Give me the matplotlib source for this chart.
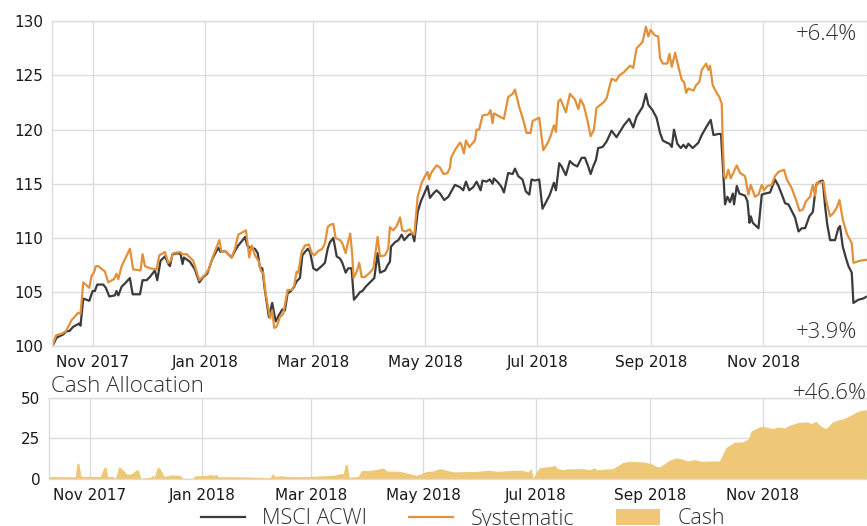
import matplotlib
matplotlib.use("Agg")
import matplotlib.pyplot as plt
import matplotlib.dates as mdates
from matplotlib import font_manager as fm
import pandas as pd

# ---------------- data ----------------
start_date = "2017-10-10"

msci_days = [0, 2.3, 5.9, 7.7, 9.2, 11.3, 14.6, 15.3, 16.8, 18.6, 20.1, 21.9, 23.1, 24.4, 27.7, 29.1,
             31.0, 34.0, 34.9, 35.9, 37.7, 39.5, 42.2, 43.7, 47.7, 49.1, 51.3, 53.1, 55.8, 57.1, 58.9,
             61.3, 63.1, 64.0, 65.4, 68.5, 69.8, 70.9, 71.6, 74.9, 77.6, 80.0, 82.2, 84.3, 87.2, 90.3,
             91.6, 94.0, 97.6, 99.4, 101.2, 103.6, 104.9, 106.1, 107.6,
             110.3, 111.8, 113.0, 114.3, 115.7, 117.9, 119.7, 121.6, 123.4, 125.2, 126.6, 128.1, 129.9,
             131.7, 133.0, 134.8, 136.1, 139.0, 140.3, 142.1, 143.9, 146.6, 148.4, 149.9, 151.1, 153.0,
             154.8, 156.6, 157.9, 159.7, 161.1, 162.9, 164.2, 165.7, 167.5, 168.8, 170.6, 173.5, 175.3,
             177.1, 178.4, 181.1, 182.6, 183.8, 184.4, 186.5, 188.4, 190.2, 191.6, 194.2, 196.0, 197.1,
             198.9, 200.7, 202.5, 204.3, 205.6, 207.4, 209.2, 211.1, 213.4, 215.6, 219.2,
             221.9, 223.7, 225.2, 227.0, 229.2, 231.0, 233.2, 234.2, 236.4, 238.2, 239.7, 240.4, 242.8,
             244.6, 245.9, 248.2, 250.6, 251.9, 253.7, 256.0, 257.8, 259.7, 260.9, 262.7, 265.1, 266.9,
             269.1, 270.9, 273.1, 274.2, 276.0, 277.3, 279.6, 281.8, 283.6, 285.8, 288.2, 290.0, 291.8,
             293.1, 294.5, 296.0, 297.2, 299.6, 301.8, 304.5, 307.2, 309.0, 311.2, 314.1, 316.3, 318.1,
             321.4, 323.2, 324.5, 326.8, 329.0,
             330.9, 332.4, 334.5, 336.0, 337.3, 338.5, 340.3, 342.2, 343.6, 345.1, 346.3, 348.7, 351.8,
             353.6, 356.3, 358.5, 360.0, 362.7, 364.1, 365.4, 366.3, 367.6, 369.0, 370.5, 371.2, 372.7,
             374.1, 377.2, 378.5, 379.6, 380.3, 381.4, 382.6, 384.5, 386.3, 388.1, 390.8, 393.5, 395.4,
             397.7, 399.0, 400.8, 402.6, 404.4, 406.3, 408.1, 409.9, 412.2, 414.1, 415.9, 417.7, 419.5,
             420.8, 422.0, 423.5, 426.2, 428.0, 428.9, 430.4, 432.2, 433.5, 435.3, 436.2, 438.9, 441.3,
             443.6]
msci_vals = [100.0, 100.8, 101.1, 101.4, 101.4, 101.8, 102.1, 101.9, 104.4, 104.3, 104.2, 105.1, 105.1,
             105.7, 105.7, 105.4, 104.6, 104.7, 105.1, 104.7, 105.5, 105.8, 106.3, 104.8, 104.8, 106.1,
             106.1, 106.4, 107.0, 106.1, 107.9, 108.3, 107.6, 107.4, 108.5, 108.6, 108.5, 107.6, 108.2,
             107.8, 107.1, 105.9, 106.4, 106.7, 108.1, 109.1, 108.7, 108.8, 108.2, 108.8, 109.3, 109.8,
             110.1, 109.3, 109.1,
             109.0, 108.6, 107.3, 107.2, 105.2, 102.7, 104.0, 102.3, 102.9, 103.4, 103.3, 104.9, 105.1,
             105.5, 106.0, 106.3, 108.4, 109.0, 108.7, 107.2, 107.0, 107.4, 107.7, 109.0, 109.6, 110.0,
             108.3, 108.1, 107.7, 106.8, 107.2, 107.2, 104.3, 104.6, 105.0, 105.1, 105.5, 106.0, 106.3,
             108.6, 106.8, 107.0, 107.5, 107.8, 109.2, 109.6, 109.8, 110.3, 109.8, 110.3, 110.4, 109.7,
             112.4, 113.4, 114.1, 114.8, 113.7, 114.1, 114.4, 114.1, 113.5, 113.8, 114.9,
             114.7, 114.4, 115.2, 114.4, 114.7, 115.2, 114.4, 115.3, 115.2, 115.4, 115.0, 115.5, 115.1,
             114.7, 114.2, 116.0, 115.9, 116.4, 115.7, 115.4, 114.3, 114.0, 115.4, 115.3, 115.4, 112.7,
             113.4, 114.0, 115.1, 114.4, 116.9, 116.6, 115.8, 117.1, 116.8, 116.6, 117.4, 117.4, 116.6,
             115.9, 116.6, 117.2, 118.3, 118.4, 118.9, 119.9, 119.3, 119.8, 120.4, 121.0, 120.2, 121.2,
             122.1, 123.3, 122.3, 121.8, 121.1,
             119.7, 119.0, 118.8, 118.7, 118.4, 120.0, 118.7, 118.3, 118.6, 118.3, 118.7, 118.3, 118.8,
             119.5, 120.3, 120.9, 119.5, 119.6, 119.6, 115.7, 113.1, 113.8, 113.3, 114.1, 113.1, 114.8,
             114.1, 113.9, 113.4, 111.4, 112.0, 111.4, 111.2, 110.9, 114.0, 114.1, 114.2, 115.4, 114.8,
             113.8, 113.2, 113.1, 112.5, 111.9, 110.6, 110.9, 110.9, 112.0, 112.4, 114.9, 115.2, 115.3,
             112.9, 111.2, 109.8, 109.8, 110.9, 111.1, 109.2, 108.1, 107.4, 106.8, 104.0, 104.3, 104.4,
             104.6]

sys_days = [0, 1.9, 5.5, 7.4, 10.4, 14.1, 15.3, 16.8, 20.1, 21.3, 22.6, 23.7, 25.0, 28.6, 30.4, 33.5,
            34.9, 35.9, 37.7, 42.2, 44.0, 48.0, 49.1, 50.4, 53.1, 56.7, 58.2, 61.3, 63.1, 64.4, 65.8,
            69.4, 70.9, 73.1, 76.7, 80.0, 83.6, 85.4, 87.2, 90.9, 92.1, 93.9, 97.6, 99.4, 101.2, 105.4,
            107.2, 108.5,
            110.3, 112.5, 113.6, 114.8, 116.1, 118.5, 119.7, 120.8, 122.1, 123.9, 125.7, 128.1, 130.3,
            131.7, 133.0, 133.9, 135.7, 137.5, 139.7, 141.2, 142.6, 144.8, 147.0, 148.4, 149.9, 151.1,
            153.0, 154.2, 156.6, 157.9, 159.7, 161.1, 162.2, 163.3, 164.0, 165.7, 167.1, 168.4, 170.2,
            172.9, 174.8, 177.1, 178.4, 181.1, 182.9, 183.8, 185.6, 187.5, 189.3, 190.5, 192.4, 194.7,
            196.0, 197.1, 198.9, 201.1, 202.9, 204.3, 205.1, 206.2, 209.2, 211.1, 212.9, 215.2, 216.5,
            217.1, 219.2,
            221.9, 222.8, 224.1, 225.2, 227.0, 230.1, 231.0, 232.4, 234.2, 237.3, 238.6, 239.7, 240.4,
            243.7, 245.9, 248.2, 250.6, 251.9, 254.2, 256.4, 258.2, 260.4, 261.5, 265.1, 267.3, 269.5,
            271.3, 273.1, 274.2, 275.5, 276.7, 279.6, 281.8, 284.5, 286.4, 287.6, 289.4, 291.3, 293.1,
            294.9, 296.3, 297.8, 300.0, 301.8, 304.5, 306.9, 308.7, 311.2, 314.5, 316.3, 318.1, 321.4,
            323.2, 324.5, 325.7, 328.1, 329.9,
            330.9, 332.4, 334.9, 336.0, 337.3, 339.1, 340.9, 342.7, 344.0, 345.1, 346.3, 349.1, 350.5,
            352.3, 353.6, 356.0, 357.2, 358.1, 359.6, 361.4, 363.2, 364.5, 365.0, 365.8, 366.8, 368.1,
            369.4, 370.8, 372.7, 374.5, 377.2, 379.0, 380.3, 382.6, 384.5, 386.3, 387.5, 389.4, 391.7,
            393.5, 395.4, 398.4, 399.9, 402.6, 405.0, 406.8, 408.6, 410.4, 412.6, 414.1, 415.3, 416.2,
            418.0, 419.9, 421.3, 423.5, 425.3, 427.1, 428.6, 430.4, 432.6, 434.4, 435.3, 436.2, 439.8,
            443.6]
sys_vals = [100.0, 101.0, 101.2, 101.4, 102.4, 103.1, 103.0, 105.9, 105.4, 106.5, 106.8, 107.4, 107.4,
            106.9, 105.9, 106.2, 106.7, 106.2, 107.4, 109.0, 107.1, 107.0, 108.5, 107.4, 107.2, 107.1,
            108.4, 108.7, 107.7, 107.9, 108.6, 108.7, 108.5, 108.5, 107.9, 106.1, 106.7, 107.2, 108.2,
            109.8, 108.7, 108.8, 108.2, 109.0, 110.3, 110.7, 108.2, 109.3,
            108.4, 107.8, 106.9, 106.8, 104.9, 102.6, 103.3, 101.7, 101.8, 102.7, 103.0, 105.2, 105.2,
            105.6, 106.9, 106.8, 108.7, 109.3, 109.4, 108.6, 108.4, 108.8, 109.0, 109.5, 111.0, 111.2,
            111.3, 110.0, 109.8, 109.5, 108.6, 109.7, 110.4, 108.4, 106.3, 106.9, 107.7, 106.4, 106.4,
            106.8, 107.2, 110.1, 108.3, 108.4, 109.0, 111.0, 110.7, 111.1, 111.9, 110.7, 110.6, 110.8,
            110.4, 110.3, 113.8, 115.1, 115.7, 116.1, 115.4, 116.0, 116.7, 116.5, 115.9, 116.0, 116.5,
            117.4, 118.1,
            118.8, 118.6, 117.8, 119.0, 118.4, 119.0, 120.0, 120.0, 121.3, 121.4, 121.8, 120.6, 121.5,
            121.2, 121.0, 123.0, 123.3, 123.7, 122.1, 120.9, 119.7, 119.7, 120.8, 121.1, 118.1, 118.7,
            119.4, 120.4, 119.8, 122.6, 122.8, 121.6, 123.3, 122.8, 121.9, 122.8, 122.2, 120.9, 119.4,
            120.0, 122.0, 122.2, 122.5, 122.9, 124.7, 124.5, 125.0, 125.3, 125.9, 125.7, 127.5, 128.1,
            129.5, 128.6, 129.2, 128.7, 128.6,
            126.6, 126.1, 126.1, 127.0, 125.8, 127.1, 125.8, 124.6, 124.4, 123.4, 123.8, 123.6, 124.1,
            124.4, 125.5, 126.1, 125.5, 125.9, 124.1, 123.5, 123.0, 122.4, 119.1, 115.7, 115.5, 116.3,
            115.5, 116.0, 116.7, 116.0, 115.7, 114.0, 114.9, 113.8, 114.0, 114.9, 114.4, 114.8, 114.9,
            115.7, 116.1, 116.3, 115.4, 114.6, 113.5, 112.5, 112.6, 113.4, 113.8, 114.9, 113.9, 115.1,
            115.1, 115.2, 113.5, 112.0, 112.3, 112.8, 113.5, 111.7, 110.4, 109.8, 109.5, 107.7, 107.9,
            108.0]

cash_days = [0, 14.1, 15.0, 16.1, 17.2, 27.6, 29.8, 30.9, 31.6, 34.5, 35.8, 37.6, 38.8, 42.1, 44.8,
             47.1, 48.4, 49.7, 54.7, 56.2, 56.9, 58.7, 60.1, 62.3, 65.5, 70.9, 72.4, 77.8, 79.1, 85.4,
             87.6, 89.0, 90.5, 91.7, 99.9, 108.9, 119.7, 121.2, 122.4, 125.2, 128.8, 136.0, 141.5,
             154.1, 157.7, 159.5, 160.6, 161.7, 162.7, 167.6, 169.4, 173.9, 176.6, 181.2, 183.3, 190.2,
             193.8, 199.2, 201.9, 204.6, 208.2, 211.8, 214.5, 219.0, 231.7, 238.9, 242.5, 252.4, 256.1,
             259.7, 261.5, 262.4, 264.2, 266.0, 272.3, 274.1, 275.9, 278.6, 280.4, 289.5, 293.1, 295.8,
             296.7, 305.7, 311.1, 314.7, 322.0, 326.5, 329.2, 331.0, 336.4, 340.0, 342.7, 346.3, 349.9,
             353.6, 361.7, 363.5, 367.1, 371.6, 376.1, 379.4, 380.7, 385.2, 387.0, 392.4, 395.1, 398.7,
             401.4, 406.8, 411.4, 413.2, 415.9, 418.6, 421.3, 424.9, 428.5, 431.2, 435.7, 439.3, 443.6]
cash_vals = [1.5, 1.4, 10.0, 9.2, 1.6, 1.6, 7.4, 7.0, 1.4, 1.6, 0.2, 7.4, 7.0, 2.9, 3.3, 5.7, 5.3, 0.4,
             1.0, 2.5, 1.0, 7.4, 6.4, 1.6, 2.5, 2.3, 0.4, 0.4, 2.0, 2.3, 2.9, 2.0, 2.9, 1.4, 1.4, 1.2,
             0.8, 3.3, 1.6, 2.0, 1.6, 1.4, 1.6, 2.3, 3.3, 3.3, 9.0, 8.6, 1.0, 1.6, 5.3, 5.3, 5.7, 6.8,
             4.9, 4.7, 3.7, 2.3, 3.3, 4.7, 4.9, 6.4, 5.7, 4.4, 4.7, 5.4, 4.7, 5.4, 5.4, 4.4, 6.4, 0.4,
             4.4, 7.0, 7.8, 8.4, 6.4, 5.7, 6.2, 6.4, 5.7, 7.0, 5.7, 6.4, 10.1, 10.9, 10.5, 9.5, 7.8,
             7.4, 11.5, 13.0, 12.5, 11.1, 11.9, 10.9, 11.1, 11.1, 19.3, 22.6, 22.8, 24.8, 29.5, 32.0,
             32.4, 31.0, 32.0, 31.4, 33.0, 34.9, 35.1, 34.0, 35.5, 32.4, 31.0, 35.1, 36.5, 37.2, 39.8,
             41.9, 42.7]

labels = ["MSCI ACWI", "Systematic", "Cash"]
ret_labels = ["+6.4%", "+3.9%", "+46.6%"]
top_yticks = [100, 105, 110, 115, 120, 125, 130]
bot_yticks = [0, 25, 50]

# ---------------- fonts ----------------
def find_light():
    for fam in ["Open Sans", "Lato", "Roboto", "Inter", "Noto Sans"]:
        for f in fm.fontManager.ttflist:
            w = f.weight
            if isinstance(w, str):
                w = fm.weight_dict.get(w, 400)
            if f.name == fam and w <= 300 and f.style == "normal":
                return fam
    return "DejaVu Sans"

LIGHT = find_light()

# ---------------- figure ----------------
t0 = pd.Timestamp(start_date)
to_dates = lambda d: t0 + pd.to_timedelta(d, unit="D")
md = to_dates(msci_days)
sd = to_dates(sys_days)
cd = to_dates(cash_days)
xmin, xmax = md.min(), md.max()

fig = plt.figure(figsize=(8.67, 5.26), dpi=100)
W, H = 867, 526
ax1 = fig.add_axes([52.4 / W, (H - 346.3) / H, 1 - 52.4 / W, (346.3 - 21.3) / H])
ax2 = fig.add_axes([49.3 / W, (H - 479) / H, 1 - 49.3 / W, (479 - 397.7) / H])

c_msci = "#3b3b3b"
c_sys = "#e2903a"
c_cash = "#efc877"
grid_c = "#dcdcdc"

l1, = ax1.plot(md, msci_vals, color=c_msci, lw=1.6, label=labels[0])
l2, = ax1.plot(sd, sys_vals, color=c_sys, lw=1.6, label=labels[1])
ax1.set_ylim(100, 130)
ax1.set_yticks(top_yticks)

fill = ax2.fill_between(cd, 0, cash_vals, color=c_cash, lw=0, label=labels[2])
ax2.set_ylim(0, 50)
ax2.set_yticks(bot_yticks)

for ax in (ax1, ax2):
    ax.set_xlim(xmin, xmax)
    ax.xaxis.set_major_locator(mdates.MonthLocator(bymonth=[1, 3, 5, 7, 9, 11]))
    ax.xaxis.set_major_formatter(mdates.DateFormatter("%b %Y"))
    ax.grid(True, color=grid_c, lw=1.0)
    ax.set_axisbelow(True)
    for s in ax.spines.values():
        s.set_color(grid_c)
        s.set_linewidth(1.0)
    ax.tick_params(length=0, labelsize=11, colors="#1a1a1a", pad=6.5)
    ax.set_facecolor("white")

tkw = dict(family=LIGHT, weight="light", color="#2e2e2e")
fig.text(857 / W, (H - 40) / H, ret_labels[0], ha="right", va="baseline", fontsize=16, **tkw)
fig.text(857 / W, (H - 338) / H, ret_labels[1], ha="right", va="baseline", fontsize=16, **tkw)
fig.text(866.5 / W, (H - 399) / H, ret_labels[2], ha="right", va="baseline", fontsize=16, **tkw)
fig.text(51 / W, (H - 392) / H, "Cash Allocation", ha="left", va="baseline", fontsize=16, **tkw)

leg = fig.legend(handles=[l1, l2, fill], labels=labels, loc="center",
                 bbox_to_anchor=(463 / W, 7 / H), ncol=3, frameon=False,
                 prop=fm.FontProperties(family=LIGHT, weight="light", size=15.5),
                 handlelength=2.05, handletextpad=0.8, columnspacing=1.95, borderpad=0)
for t in leg.get_texts():
    t.set_color("#2e2e2e")

fig.savefig("out.png", dpi=100)
